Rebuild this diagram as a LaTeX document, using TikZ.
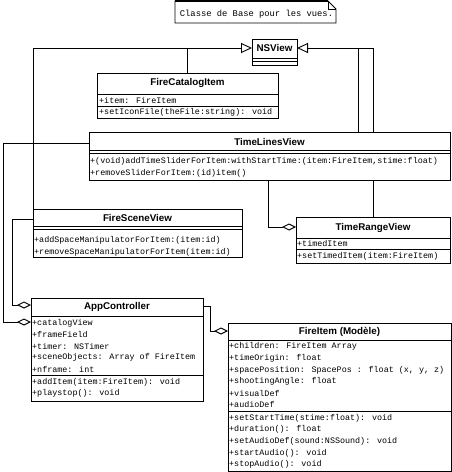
\documentclass[tikz,border=0pt]{standalone}
\usepackage{fontspec}
\setmainfont{Liberation Sans}
\newfontfamily\monof{Liberation Mono}
\usetikzlibrary{arrows.meta,calc}
\pgfdeclarelayer{bg}
\pgfsetlayers{bg,main}
\tikzset{
  cls/.style={draw, fill=white, line width=0.9bp, inner sep=0pt, outer sep=0pt, anchor=north west},
  cname/.style={font=\bfseries\fontsize{9.8bp}{11bp}\selectfont, inner sep=0pt},
  row/.style={font=\monof\fontsize{8.4bp}{10bp}\selectfont, anchor=west, inner sep=0pt},
  sepline/.style={line width=0.9bp},
  conn/.style={line width=0.9bp},
  gen/.style={conn, -{Triangle[open, length=11bp, width=10bp]}},
  agg/.style={conn, -{Diamond[open, length=14bp, width=7bp]}},
}
\begin{document}
\begin{tikzpicture}[x=1bp,y=-1bp]
\useasboundingbox (0,0) rectangle (452,472);

% ---------- note
\node[inner sep=0pt, outer sep=0pt, minimum width=161bp, minimum height=22bp, anchor=north west] (note) at (175,1) {};
\node[font=\monof\fontsize{8.8bp}{10bp}\selectfont, inner sep=0pt] (notetext) at ($(note.center)+(1,2)$) {Classe de Base pour les vues.};
\draw[conn] (note.north west) -- ($(note.north east)+(-8,0)$) -- ($(note.north east)+(0,8)$) -- (note.south east) -- (note.south west) -- cycle;
\draw[conn] ($(note.north east)+(-8,0)$) |- ($(note.north east)+(0,8)$);
\draw[line width=1.6bp] (note.north west) -- ($(note.north east)+(-8,0)$);

% ---------- NSView
\node[cls, minimum width=45bp, minimum height=26bp] (nsv) at (252,39) {};
\node[cname] (nsvname) at ($(nsv.north)+(0,9.5)$) {NSView};
\draw[sepline] ($(nsv.north west)+(0,19)$) -- ($(nsv.north east)+(0,19)$);
\draw[sepline] ($(nsv.north west)+(0,22)$) -- ($(nsv.north east)+(0,22)$);
\coordinate (nsvL) at ($(nsv.north west)+(0,9)$);
\coordinate (nsvR) at ($(nsv.north east)+(0,9)$);

% ---------- FireCatalogItem
\node[cls, minimum width=181bp, minimum height=45bp] (fci) at (97,73) {};
\node[cname] (fciname) at ($(fci.north)+(0,10)$) {FireCatalogItem};
\draw[sepline] ($(fci.north west)+(0,21)$) -- ($(fci.north east)+(0,21)$);
\draw[sepline] ($(fci.north west)+(0,33)$) -- ($(fci.north east)+(0,33)$);
\node[row] (fci1) at ($(fci.north west)+(2,27)$) {+item: FireItem};
\node[row] (fci2) at ($(fci.north west)+(2,39)$) {+setIconFile(theFile:string): void};

% ---------- TimeLinesView
\node[cls, minimum width=361bp, minimum height=48bp] (tlv) at (89,132) {};
\node[cname] (tlvname) at ($(tlv.north)+(0,9.5)$) {TimeLinesView};
\draw[sepline] ($(tlv.north west)+(0,18)$) -- ($(tlv.north east)+(0,18)$);
\draw[sepline] ($(tlv.north west)+(0,21)$) -- ($(tlv.north east)+(0,21)$);
\node[row] (tlv1) at ($(tlv.north west)+(1,29)$) {+(void)addTimeSliderForItem:withStartTime:(item:FireItem,stime:float)};
\node[row] (tlv2) at ($(tlv.north west)+(1,41)$) {+removeSliderForItem:(id)item()};

% ---------- FireSceneView
\node[cls, minimum width=209bp, minimum height=48bp] (fsv) at (33,209) {};
\node[cname] (fsvname) at ($(fsv.north)+(0,9)$) {FireSceneView};
\draw[sepline] ($(fsv.north west)+(0,17)$) -- ($(fsv.north east)+(0,17)$);
\draw[sepline] ($(fsv.north west)+(0,20)$) -- ($(fsv.north east)+(0,20)$);
\node[row] (fsv1) at ($(fsv.north west)+(1,31)$) {+addSpaceManipulatorForItem:(item:id)};
\node[row] (fsv2) at ($(fsv.north west)+(1,43)$) {+removeSpaceManipulatorForItem(item:id)};

% ---------- TimeRangeView
\node[cls, minimum width=154bp, minimum height=46bp] (trv) at (296,217) {};
\node[cname] (trvname) at ($(trv.north)+(0,11)$) {TimeRangeView};
\draw[sepline] ($(trv.north west)+(0,21)$) -- ($(trv.north east)+(0,21)$);
\draw[sepline] ($(trv.north west)+(0,32)$) -- ($(trv.north east)+(0,32)$);
\node[row] (trv1) at ($(trv.north west)+(1,26.5)$) {+timedItem};
\node[row] (trv2) at ($(trv.north west)+(1,39)$) {+setTimedItem(item:FireItem)};

% ---------- AppController
\node[cls, minimum width=172bp, minimum height=103bp] (ac) at (31,298) {};
\node[cname] (acname) at ($(ac.north)+(0,9)$) {AppController};
\draw[sepline] ($(ac.north west)+(0,18)$) -- ($(ac.north east)+(0,18)$);
\draw[sepline] ($(ac.north west)+(0,77)$) -- ($(ac.north east)+(0,77)$);
\node[row] (ac1) at ($(ac.north west)+(1,25)$) {+catalogView};
\node[row] (ac2) at ($(ac.north west)+(1,36.5)$) {+frameField};
\node[row] (ac3) at ($(ac.north west)+(1,48)$) {+timer: NSTimer};
\node[row] (ac4) at ($(ac.north west)+(1,59.5)$) {+sceneObjects: Array of FireItem};
\node[row] (ac5) at ($(ac.north west)+(1,71)$) {+nframe: int};
\node[row] (ac6) at ($(ac.north west)+(1,84)$) {+addItem(item:FireItem): void};
\node[row] (ac7) at ($(ac.north west)+(1,95.5)$) {+playstop(): void};

% ---------- FireItem
\node[cls, minimum width=223bp, minimum height=148bp] (fi) at (228,323) {};
\node[cname] (finame) at ($(fi.north)+(0,9)$) {FireItem (Modèle)};
\draw[sepline] ($(fi.north west)+(0,17)$) -- ($(fi.north east)+(0,17)$);
\draw[sepline] ($(fi.north west)+(0,88)$) -- ($(fi.north east)+(0,88)$);
\node[row] (fi1) at ($(fi.north west)+(1,23.5)$) {+children: FireItem Array};
\node[row] (fi2) at ($(fi.north west)+(1,35.2)$) {+timeOrigin: float};
\node[row] (fi3) at ($(fi.north west)+(1,46.9)$) {+spacePosition: SpacePos : float (x, y, z)};
\node[row] (fi4) at ($(fi.north west)+(1,58.6)$) {+shootingAngle: float};
\node[row] (fi5) at ($(fi.north west)+(1,70.3)$) {+visualDef};
\node[row] (fi6) at ($(fi.north west)+(1,82)$) {+audioDef};
\node[row] (fi7) at ($(fi.north west)+(1,95)$) {+setStartTime(stime:float): void};
\node[row] (fi8) at ($(fi.north west)+(1,106.7)$) {+duration(): float};
\node[row] (fi9) at ($(fi.north west)+(1,118.4)$) {+setAudioDef(sound:NSSound): void};
\node[row] (fi10) at ($(fi.north west)+(1,130.1)$) {+startAudio(): void};
\node[row] (fi11) at ($(fi.north west)+(1,141.8)$) {+stopAudio(): void};

% ---------- connectors
\coordinate (tlvT) at ($(tlv.north west)+(269,0)$);
\coordinate (tlvL) at ($(tlv.north west)+(0,11)$);
\coordinate (tlvB) at ($(tlv.south west)+(179,0)$);
\coordinate (fsvL) at ($(fsv.north west)+(0,10)$);
\coordinate (trvL) at ($(trv.north west)+(0,10)$);
\coordinate (acA) at ($(ac.north west)+(0,24)$);
\coordinate (acB) at ($(ac.north west)+(0,7)$);
\coordinate (acR) at ($(ac.north east)+(0,8)$);
\coordinate (fiL) at ($(fi.north west)+(0,8)$);
\begin{pgfonlayer}{bg}
  \draw[gen] (fsv.north west) |- (nsvL);
  \draw[conn] (fci.north) -- (fci.north |- nsvL);
  \draw[gen] (trv.north) |- (nsvR);
  \draw[conn] (tlvT) -- (tlvT |- nsvR);
  \draw[agg] (tlvL) -- ++(-86,0) |- (acA);
  \draw[agg] (fsvL) -- ++(-21,0) |- (acB);
  \draw[agg] (acR) -- ++(7,0) |- (fiL);
  \draw[agg] (tlvB) |- (trvL);
\end{pgfonlayer}
\end{tikzpicture}
\end{document}
